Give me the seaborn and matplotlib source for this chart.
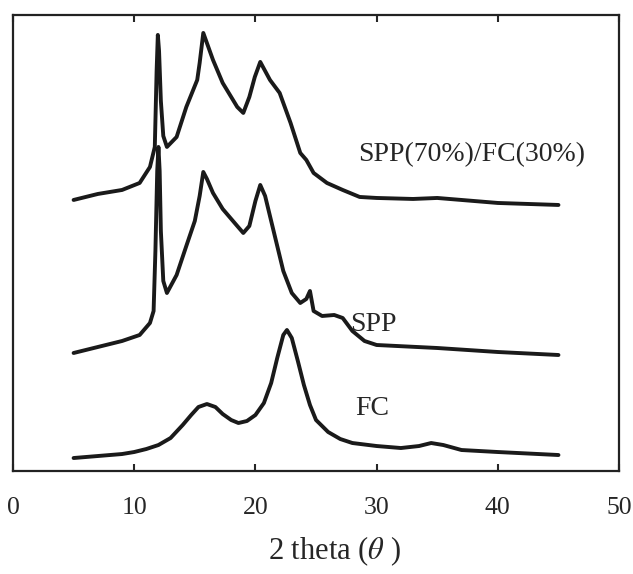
import pandas as pd
import matplotlib
matplotlib.use('Agg')
import matplotlib.pyplot as plt
import seaborn as sns

# 2 theta positions and intensities (arbitrary units, curves already offset)
fc_x = [5, 7, 9, 10, 11, 12, 13, 14, 14.7, 15.3, 16, 16.7, 17.3, 18, 18.6, 19.3, 20, 20.7,
        21.3, 21.8, 22.3, 22.6, 23, 23.5, 24, 24.5, 25, 26, 27, 28, 30, 32, 33.5, 34.5, 35.5,
        37, 40, 45]
fc_y = [13, 15, 17, 19, 22, 26, 33, 46, 56, 64, 67, 64, 57, 51, 48, 50, 56, 68,
        88, 113, 136, 141, 133, 110, 86, 66, 51, 39, 32, 28, 25, 23, 25, 28, 26,
        21, 19, 16]

spp_x = [5, 7, 9, 10.45, 11.3, 11.6, 11.75, 11.9, 12.0, 12.1, 12.2, 12.4, 12.7, 13.5, 14.3,
         15.0, 15.4, 15.7, 16.0, 16.5, 17.3, 18.5, 19.0, 19.5, 20.0, 20.4, 20.8, 21.5, 22.3,
         23, 23.7, 24.2, 24.5, 24.8, 25.5, 26.5, 27.2, 28, 29, 30, 35, 40, 45]
spp_y = [118, 124, 130, 136, 148, 160, 220, 300, 324, 300, 240, 190, 178, 196, 225,
         250, 275, 299, 292, 278, 262, 245, 238, 245, 270, 286, 275, 240, 200,
         178, 168, 172, 180, 160, 155, 156, 153, 140, 130, 126, 123, 119, 116]

mix_x = [5, 7, 9, 10.45, 11.3, 11.7, 11.85, 11.95, 12.05, 12.2, 12.4, 12.7, 13.5, 14.3, 15.2,
         15.4, 15.7, 16.5, 17.3, 18.5, 19.0, 19.5, 19.95, 20.4, 21.2, 22.0, 22.9, 23.7, 24.2,
         24.8, 25.9, 27.2, 28.6, 30, 33, 35, 40, 45]
mix_y = [271, 277, 281, 288, 304, 324, 400, 436, 420, 370, 335, 324, 334, 364, 391,
         408, 438, 411, 388, 364, 358, 374, 394, 409, 391, 378, 348, 318, 311,
         298, 288, 281, 274, 273, 272, 273, 268, 266]

labels = ['SPP(70%)/FC(30%)', 'SPP', 'FC']
xticks = [0, 10, 20, 30, 40, 50]

sns.set_style('ticks')
plt.rcParams['font.family'] = ['Liberation Serif', 'DejaVu Serif']
plt.rcParams['mathtext.fontset'] = 'stix'

fig = plt.figure(figsize=(6.33, 5.74), dpi=100)
ax = fig.add_axes([0.0205, 0.1794, 0.9575, 0.7946])

for xs, ys in [(fc_x, fc_y), (spp_x, spp_y), (mix_x, mix_y)]:
    df = pd.DataFrame({'two_theta': xs, 'intensity': ys})
    sns.lineplot(data=df, x='two_theta', y='intensity', ax=ax, color='#1a1a1a',
                 linewidth=2.8, estimator=None, sort=False)

ax.text(28.5, 316, labels[0], fontsize=20, va='center', ha='left')
ax.text(27.8, 146, labels[1], fontsize=20, va='center', ha='left')
ax.text(28.2, 63, labels[2], fontsize=20, va='center', ha='left')

ax.set_xlim(0, 50)
ax.set_ylim(0, 456)
ax.set_xticks(xticks)
ax.set_xticklabels([str(t) for t in xticks], fontsize=18.5)
ax.set_yticks([])
ax.tick_params(axis='x', direction='in', top=True, length=5, width=1.5, pad=19)
ax.set_xlabel('2 theta ($\\theta$ )', fontsize=22, labelpad=11)
ax.xaxis.label.set_x(0.53)
ax.set_ylabel('')
for s in ax.spines.values():
    s.set_linewidth(1.6)
    s.set_color('#222222')

fig.savefig('out.png', dpi=100)
